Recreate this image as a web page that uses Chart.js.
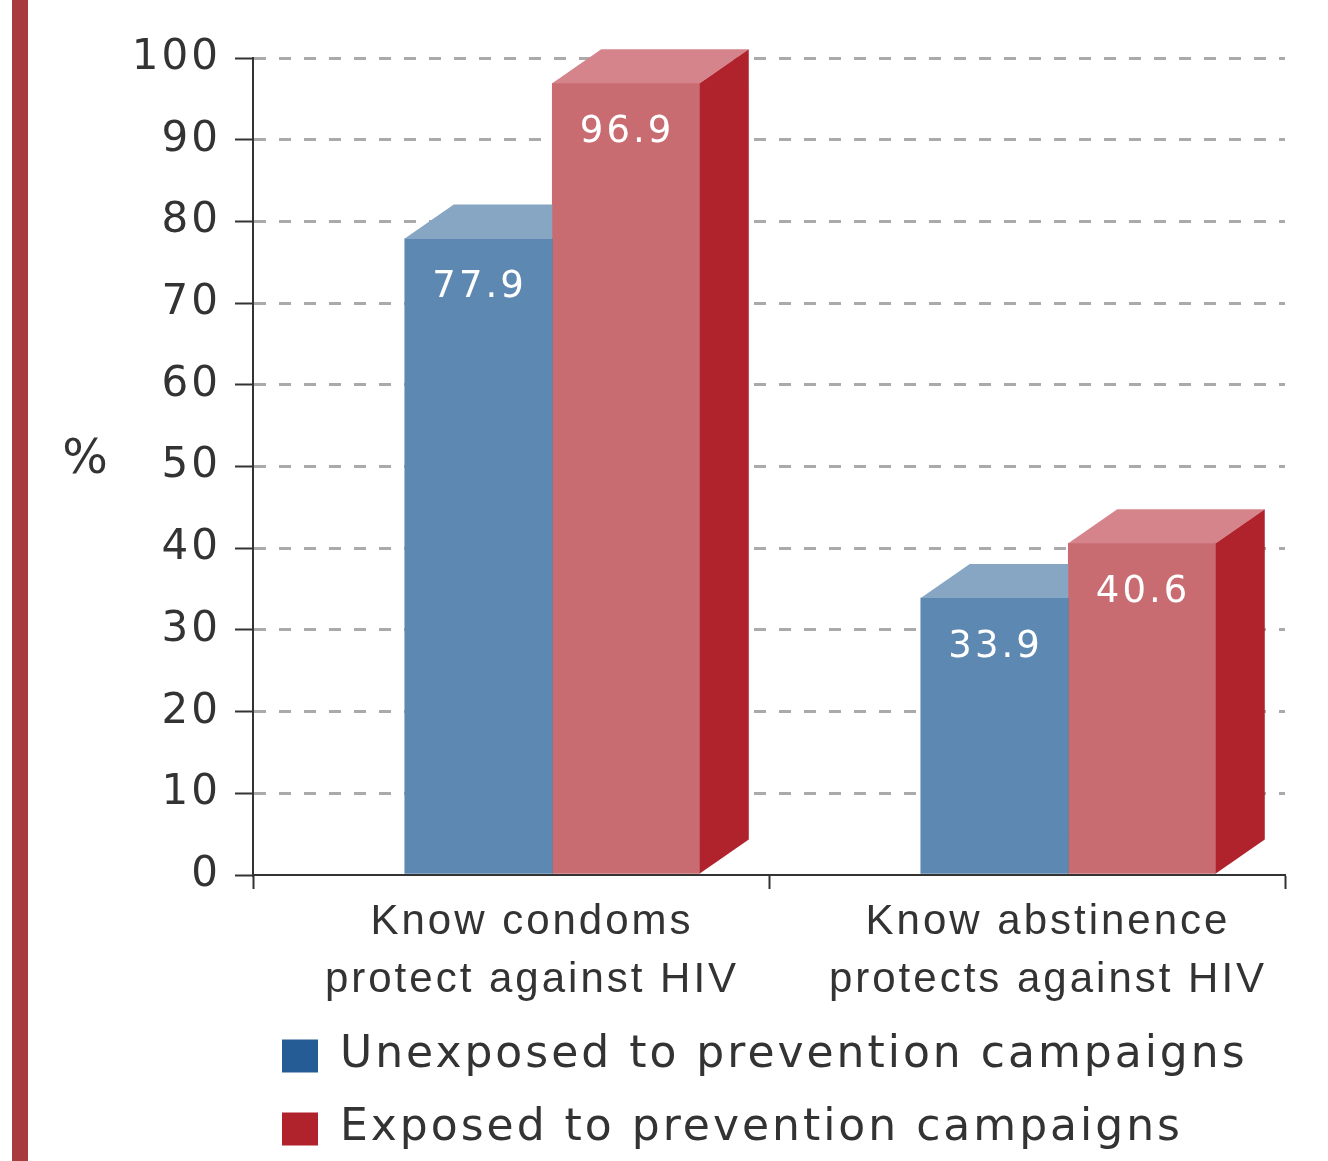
<!DOCTYPE html>
<html>
<head>
<meta charset="utf-8">
<title>Knowledge of HIV prevention</title>
<script src="https://cdn.jsdelivr.net/npm/chart.js@4.4.1/dist/chart.umd.min.js"></script>
<style>
    html, body { margin: 0; padding: 0; background: #ffffff; }
    #wrap { position: relative; width: 1328px; height: 1161px; }
    #stripe { position: absolute; left: 12px; top: 0; width: 16px; height: 1161px; background: #a83b3d; }
    #chart { position: absolute; left: 0; top: 0; }
</style>
</head>
<body>
<div id="wrap">
    <div id="stripe"></div>
    <canvas id="chart" width="1328" height="1161"></canvas>
</div>
<script>
// Dados do gráfico
const categorias = [
    ['Know condoms', 'protect against HIV'],
    ['Know abstinence', 'protects against HIV']
];
const seriesNomes = ['Unexposed to prevention campaigns', 'Exposed to prevention campaigns'];
const naoExpostos = [77.9, 33.9];
const expostos = [96.9, 40.6];
const yTicks = { min: 0, max: 100, step: 10 };
const yTitulo = '%';

// Cores e estilo
const coresFrente = ['#5d88b1', '#c96c72'];
const coresTopo = ['#87a6c4', '#d5848b'];
const coresLado = ['#4a6f93', '#b0232d'];
const coresLegenda = ['#255c96', '#b0232d'];
const PROF_X = 49;   // profundidade 3D
const PROF_Y = 34;
const DESLOC = 0.08; // grupo de barras deslocado para a direita da categoria
const TEXTO = '#333333';
const ESPACO_LETRAS = '3px';

// espaçamento de letras no canvas (o original tem texto bem espaçado)
const espacamentoPlugin = {
    id: 'espacamento',
    beforeUpdate(chart) { chart.ctx.letterSpacing = ESPACO_LETRAS; },
    beforeDraw(chart) { chart.ctx.letterSpacing = ESPACO_LETRAS; }
};

// faces de topo e lateral + rótulos de valor
const barras3dPlugin = {
    id: 'barras3d',
    afterDatasetsDraw(chart) {
        const ctx = chart.ctx;
        const metas = chart.getSortedVisibleDatasetMetas().slice().sort((a, b) => a.index - b.index);

        metas.forEach((meta, di) => {
            meta.data.forEach((bar, i) => {
                const p = bar.getProps(['x', 'y', 'base', 'width'], true);
                const l = p.x - p.width / 2;
                const r = p.x + p.width / 2;
                ctx.save();
                // esconder o que fica atrás da barra seguinte
                const prox = metas[di + 1];
                if (prox) {
                    const q = prox.data[i].getProps(['x', 'y', 'base', 'width'], true);
                    ctx.beginPath();
                    ctx.rect(0, 0, chart.width, chart.height);
                    ctx.rect(q.x - q.width / 2, q.y, q.width, q.base - q.y);
                    ctx.clip('evenodd');
                }
                ctx.fillStyle = coresTopo[di];
                ctx.beginPath();
                ctx.moveTo(l, p.y);
                ctx.lineTo(r, p.y);
                ctx.lineTo(r + PROF_X, p.y - PROF_Y);
                ctx.lineTo(l + PROF_X, p.y - PROF_Y);
                ctx.closePath();
                ctx.fill();

                ctx.fillStyle = coresLado[di];
                ctx.beginPath();
                ctx.moveTo(r, p.y);
                ctx.lineTo(r + PROF_X, p.y - PROF_Y);
                ctx.lineTo(r + PROF_X, p.base - PROF_Y);
                ctx.lineTo(r, p.base);
                ctx.closePath();
                ctx.fill();
                ctx.restore();
            });
        });

        // rótulos de valor
        ctx.save();
        ctx.letterSpacing = ESPACO_LETRAS;
        ctx.fillStyle = '#ffffff';
        ctx.font = '37px "DejaVu Sans"';
        ctx.textAlign = 'center';
        ctx.textBaseline = 'middle';
        metas.forEach(meta => {
            const valores = chart.data.datasets[meta.index].data;
            meta.data.forEach((bar, i) => {
                const p = bar.getProps(['x', 'y'], true);
                ctx.fillText(valores[i].y.toFixed(1), p.x + 1, p.y + 49);
            });
        });
        ctx.restore();
    }
};

// título "%" horizontal à esquerda do eixo y
const tituloYPlugin = {
    id: 'tituloY',
    afterDraw(chart) {
        const ctx = chart.ctx;
        const area = chart.chartArea;
        ctx.save();
        ctx.letterSpacing = '0px';
        ctx.fillStyle = TEXTO;
        ctx.font = '48px "DejaVu Sans"';
        ctx.textAlign = 'center';
        ctx.textBaseline = 'middle';
        ctx.fillText(yTitulo, area.left - 168, (area.top + area.bottom) / 2 - 6);
        ctx.restore();
    }
};

const pontos = serie => serie.map((v, i) => ({ x: i + DESLOC, y: v }));

const ctx = document.getElementById('chart').getContext('2d');
new Chart(ctx, {
    type: 'bar',
    data: {
        labels: categorias,
        datasets: [
            {
                label: seriesNomes[0],
                data: pontos(naoExpostos),
                backgroundColor: coresFrente[0],
                xAxisID: 'xb',
                barThickness: 147.5,
                borderWidth: 0
            },
            {
                label: seriesNomes[1],
                data: pontos(expostos),
                backgroundColor: coresFrente[1],
                xAxisID: 'xb',
                barThickness: 147.5,
                borderWidth: 0
            }
        ]
    },
    options: {
        responsive: false,
        animation: false,
        devicePixelRatio: 1,
        layout: {
            padding: { top: 58, right: 43, bottom: 0, left: 0 }
        },
        plugins: {
            tooltip: { enabled: false },
            legend: {
                position: 'bottom',
                align: 'start',
                fullSize: false,
                labels: {
                    color: TEXTO,
                    font: { family: 'DejaVu Sans', size: 44 },
                    boxWidth: 36,
                    boxHeight: 33,
                    padding: 29,
                    generateLabels: function(chart) {
                        const itens = Chart.defaults.plugins.legend.labels.generateLabels(chart);
                        itens.forEach(item => {
                            item.fillStyle = coresLegenda[item.datasetIndex];
                            item.strokeStyle = coresLegenda[item.datasetIndex];
                            item.lineWidth = 0;
                        });
                        return itens;
                    }
                }
            }
        },
        scales: {
            xb: {
                type: 'linear',
                display: false,
                offset: false,
                min: -0.5,
                max: 1.5
            },
            x: {
                type: 'category',
                position: 'bottom',
                offset: true,
                afterFit: scale => { scale.height = 130; },
                grid: {
                    offset: true,
                    drawOnChartArea: false,
                    tickLength: 14,
                    tickColor: TEXTO,
                    tickWidth: 2
                },
                border: { color: TEXTO, width: 2 },
                ticks: {
                    color: TEXTO,
                    padding: 4,
                    labelOffset: 21,
                    font: { family: 'Liberation Sans', size: 42, lineHeight: 1.38 }
                }
            },
            y: {
                min: yTicks.min,
                max: yTicks.max,
                afterFit: scale => { scale.width = 253; },
                ticks: {
                    stepSize: yTicks.step,
                    color: TEXTO,
                    padding: 14,
                    font: { family: 'DejaVu Sans', size: 42 }
                },
                grid: {
                    color: c => (c.tick && c.tick.value === 0) ? 'rgba(0,0,0,0)' : '#aaaaaa',
                    lineWidth: 3,
                    tickLength: 18,
                    tickColor: TEXTO,
                    tickWidth: 2
                },
                border: { color: TEXTO, width: 2, dash: [12, 13] }
            }
        }
    },
    plugins: [espacamentoPlugin, barras3dPlugin, tituloYPlugin]
});
</script>
</body>
</html>
